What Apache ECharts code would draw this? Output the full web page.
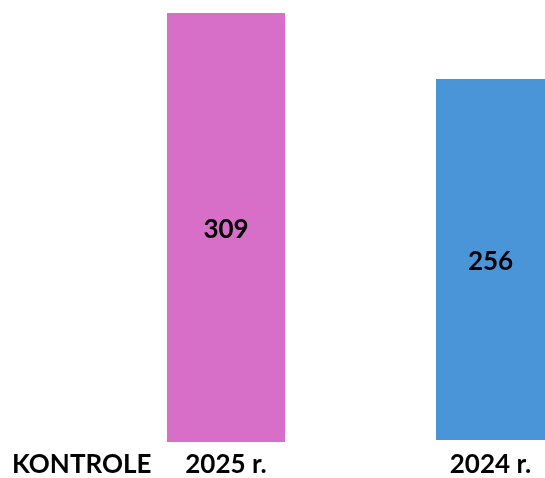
<!DOCTYPE html>
<html>
<head>
<meta charset="utf-8">
<script src="https://cdn.jsdelivr.net/npm/echarts@6/dist/echarts.min.js"></script>
<style>
html,body{margin:0;padding:0;background:#fff;}
#main{width:545px;height:478px;}
</style>
</head>
<body>
<div id="main"></div>
<script>
const categories = ['2025 r.', '2024 r.'];
const values = [309, 256];
const colors = ['#D76FC9', '#4A95D8'];
const rowTitle = 'KONTROLE';

const FONT = 'Lato';
const chart = echarts.init(document.getElementById('main'), null, {renderer: 'canvas'});

const grids = [
  {left: 167, width: 118, top: 13, bottom: 35.5},
  {left: 436, width: 109, top: 79, bottom: 35.5}
];
const barWidths = [118, 109];

const option = {
  animation: false,
  title: {
    text: rowTitle,
    left: 12,
    top: 452,
    padding: 0,
    textStyle: {fontFamily: FONT, fontSize: 26, fontWeight: 'bold', color: '#000'}
  },
  grid: grids,
  xAxis: categories.map((c, i) => ({
    type: 'category',
    gridIndex: i,
    data: [c],
    axisLine: {show: false},
    axisTick: {show: false},
    axisLabel: {margin: 10 + i * 2, fontFamily: FONT, fontSize: 26, fontWeight: 'bold', color: '#000'}
  })),
  yAxis: categories.map((c, i) => ({
    type: 'value',
    gridIndex: i,
    min: 0,
    max: 'dataMax',
    show: false,
    splitLine: {show: false}
  })),
  series: categories.map((c, i) => ({
    type: 'bar',
    xAxisIndex: i,
    yAxisIndex: i,
    data: [values[i]],
    barWidth: barWidths[i],
    itemStyle: {color: colors[i]},
    label: {
      show: true,
      position: 'inside',
      offset: [0, 2],
      fontFamily: FONT,
      fontSize: 26,
      fontWeight: 'bold',
      color: '#000'
    }
  }))
};
chart.setOption(option);
</script>
</body>
</html>
